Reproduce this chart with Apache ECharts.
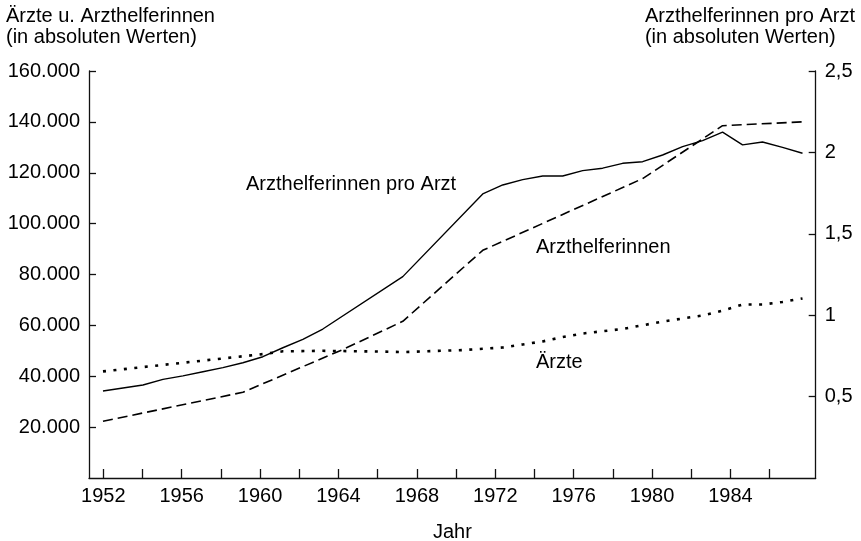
<!DOCTYPE html>
<html>
<head>
<meta charset="utf-8">
<script src="https://cdn.jsdelivr.net/npm/echarts@6/dist/echarts.min.js"></script>
<style>html,body{margin:0;padding:0;background:#fff}#c{width:861px;height:541px}</style>
</head>
<body>
<div id="c"></div>
<script>
// Arzthelferinnen pro Arzt (right axis)
const ratioYears = [1952,1954,1955,1956,1957,1958,1959,1960,1961,1962,1963,1967,1971,1972,1973,1974,1975,1976,1977,1978,1979,1980,1981,1982,1983,1984,1985,1986,1987];
const ratioValues = [0.534,0.571,0.606,0.627,0.653,0.678,0.708,0.745,0.800,0.852,0.915,1.237,1.745,1.800,1.833,1.855,1.855,1.888,1.903,1.933,1.943,1.984,2.035,2.072,2.124,2.046,2.064,2.031,1.995];
// Arzthelferinnen (left axis)
const helperYears = [1952,1959,1964,1967,1971,1979,1983,1987];
const helperValues = [22300,33700,50500,61600,89500,117700,138500,140000];
// Ärzte (left axis)
const doctorYears = [1952,1960,1961,1963,1966,1967,1970,1972,1973,1974,1975,1976,1978,1980,1982,1983,1984,1985,1986,1987];
const doctorValues = [41900,48700,49800,50000,49700,49500,50300,51300,52500,53700,55400,56800,58600,61500,63900,65800,68200,68200,69200,70600];
// tick labels
const xTickYears = [1952,1954,1956,1958,1960,1962,1964,1966,1968,1970,1972,1974,1976,1978,1980,1982,1984,1986];
const xLabelYears = [1952,1956,1960,1964,1968,1972,1976,1980,1984];
const leftTicks = [20000,40000,60000,80000,100000,120000,140000,160000];
const rightTicks = [0.5,1,1.5,2,2.5];

const pairs = (xs, ys) => xs.map((x, i) => [x, ys[i]]);
const FONT = 'Liberation Sans, Arial, sans-serif';
const txt = {color: '#000', fontSize: 20, fontFamily: FONT};
const axisLineStyle = {color: '#111', width: 1.3};

const chart = echarts.init(document.getElementById('c'), null, {renderer: 'canvas'});
chart.setOption({
  animation: false,
  backgroundColor: '#fff',
  grid: {left: 89, right: 45.3, top: 71, bottom: 63, containLabel: false, outerBoundsMode: 'none'},
  xAxis: [
    {
      type: 'value', min: 1951.27, max: 1988.35, position: 'bottom',
      name: 'Jahr', nameLocation: 'middle', nameGap: 44, nameTextStyle: txt,
      axisLine: {show: true, lineStyle: axisLineStyle},
      axisTick: {show: true, inside: true, length: 9, customValues: xTickYears, lineStyle: axisLineStyle},
      axisLabel: Object.assign({show: true, margin: 8, customValues: xLabelYears, formatter: v => String(Math.round(v))}, txt),
      splitLine: {show: false}
    },
    {
      type: 'value', min: 1951.30, max: 1987.66, show: false, position: 'bottom',
      splitLine: {show: false}
    }
  ],
  yAxis: [
    {
      type: 'value', min: 0, max: 160000, position: 'left',
      axisLine: {show: true, lineStyle: axisLineStyle},
      axisTick: {show: true, inside: true, length: 7, customValues: leftTicks, lineStyle: axisLineStyle},
      axisLabel: Object.assign({show: true, margin: 9, customValues: leftTicks,
        formatter: v => String(v / 1000) + '.000'}, txt),
      splitLine: {show: false}
    },
    {
      type: 'value', min: 0, max: 2.5, position: 'right',
      axisLine: {show: true, lineStyle: axisLineStyle},
      axisTick: {show: true, inside: true, length: 7, customValues: rightTicks, lineStyle: axisLineStyle},
      axisLabel: Object.assign({show: true, margin: 9, customValues: rightTicks,
        formatter: v => String(v).replace('.', ',')}, txt),
      splitLine: {show: false}
    }
  ],
  series: [
    {
      name: 'Arzthelferinnen pro Arzt', type: 'line', xAxisIndex: 1, yAxisIndex: 1,
      data: pairs(ratioYears, ratioValues), symbol: 'none', smooth: false,
      lineStyle: {color: '#000', width: 1.4, type: 'solid'}
    },
    {
      name: 'Arzthelferinnen', type: 'line', xAxisIndex: 1, yAxisIndex: 0,
      data: pairs(helperYears, helperValues), symbol: 'none', smooth: false,
      lineStyle: {color: '#000', width: 1.6, type: [10, 5]}
    },
    {
      name: 'Ärzte', type: 'line', xAxisIndex: 1, yAxisIndex: 0,
      data: pairs(doctorYears, doctorValues), symbol: 'none', smooth: false,
      lineStyle: {color: '#000', width: 2.6, type: [3, 7.5]}
    }
  ],
  graphic: [
    {type: 'text', left: 6, top: 6, style: {text: 'Ärzte u. Arzthelferinnen\n(in absoluten Werten)', fill: '#000', font: '20px ' + FONT, lineHeight: 21}},
    {type: 'text', right: 6, top: 6, style: {text: 'Arzthelferinnen pro Arzt\n(in absoluten Werten)', fill: '#000', font: '20px ' + FONT, lineHeight: 21, align: 'right'}},
    {type: 'text', x: 246, y: 184, style: {text: 'Arzthelferinnen pro Arzt', fill: '#000', font: '20px ' + FONT, verticalAlign: 'middle'}},
    {type: 'text', x: 536, y: 247, style: {text: 'Arzthelferinnen', fill: '#000', font: '20px ' + FONT, verticalAlign: 'middle'}},
    {type: 'text', x: 536, y: 362, style: {text: 'Ärzte', fill: '#000', font: '20px ' + FONT, verticalAlign: 'middle'}}
  ]
});
</script>
</body>
</html>
